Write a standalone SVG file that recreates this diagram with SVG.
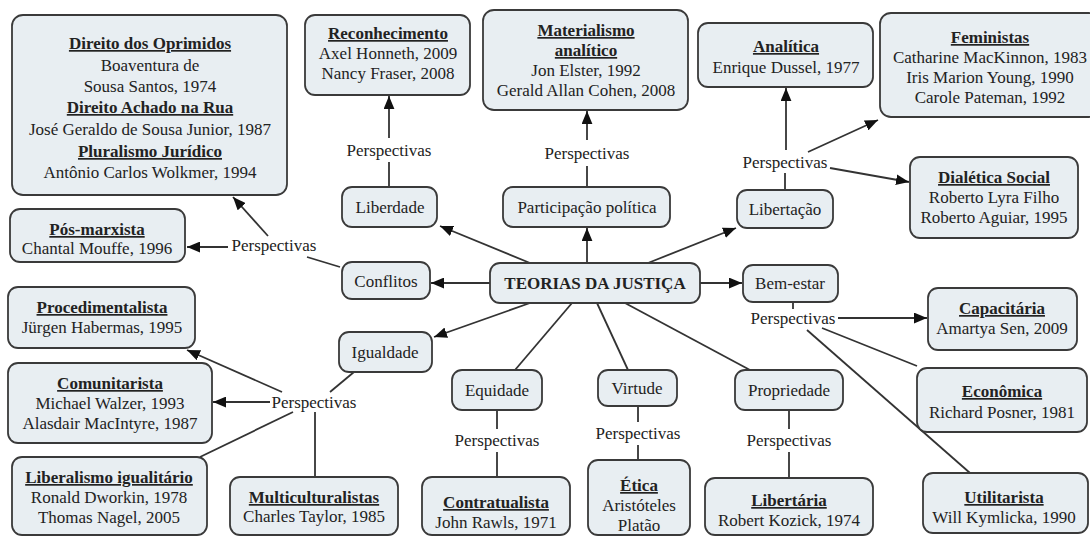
<svg xmlns="http://www.w3.org/2000/svg" width="1090" height="537" viewBox="0 0 1090 537" font-family="Liberation Serif, serif" font-size="17">
<style>
  .box{fill:#e8eef2;stroke:#3a3a3a;stroke-width:1.8}
  .t{font-family:'Liberation Serif',serif;font-size:17px;fill:#222;text-anchor:middle}
  .b{font-weight:bold;text-decoration:underline}
  .bt{font-weight:bold}
  .c{stroke:#333;stroke-width:1.8;fill:none}
  .a{marker-end:url(#arr)}
</style>
<defs>
  <marker id="arr" viewBox="0 0 12 10" refX="12" refY="5" markerWidth="13" markerHeight="11" markerUnits="userSpaceOnUse" orient="auto">
    <path d="M0,0 L12,5 L0,10 z" fill="#111"/>
  </marker>
</defs>
<rect width="1090" height="537" fill="#ffffff"/>
<g id="connectors">
  <line class="c" x1="340" y1="267" x2="307" y2="257"/>
  <line class="c a" x1="228" y1="247" x2="187" y2="247"/>
  <line class="c a" x1="268" y1="236" x2="233" y2="197"/>
  <line class="c a" x1="490" y1="283" x2="431" y2="283"/>
  <line class="c a" x1="530" y1="263" x2="440" y2="226"/>
  <line class="c" x1="389" y1="187" x2="389" y2="162"/>
  <line class="c a" x1="389" y1="138" x2="389" y2="96"/>
  <line class="c a" x1="587" y1="263" x2="587" y2="228"/>
  <line class="c" x1="587" y1="187" x2="587" y2="166"/>
  <line class="c a" x1="587" y1="140" x2="587" y2="111"/>
  <line class="c a" x1="648" y1="263" x2="736" y2="228"/>
  <line class="c" x1="785" y1="190" x2="785" y2="173"/>
  <line class="c a" x1="786" y1="150" x2="786" y2="88"/>
  <line class="c a" x1="808" y1="152" x2="878" y2="120"/>
  <line class="c a" x1="830" y1="168" x2="909" y2="182"/>
  <line class="c a" x1="700" y1="283" x2="742" y2="283"/>
  <line class="c" x1="793" y1="302" x2="793" y2="309"/>
  <line class="c a" x1="838" y1="318" x2="927" y2="318"/>
  <line class="c" x1="822" y1="328" x2="917" y2="366"/>
  <line class="c" x1="807" y1="330" x2="970" y2="473"/>
  <line class="c a" x1="530" y1="303" x2="434" y2="337"/>
  <line class="c" x1="354" y1="372" x2="330" y2="392"/>
  <line class="c a" x1="282" y1="392" x2="187" y2="350"/>
  <line class="c a" x1="270" y1="402" x2="213" y2="402"/>
  <line class="c" x1="293" y1="412" x2="200" y2="457"/>
  <line class="c" x1="315" y1="412" x2="315" y2="477"/>
  <line class="c" x1="572" y1="303" x2="515" y2="370"/>
  <line class="c" x1="497" y1="410" x2="497" y2="429"/>
  <line class="c" x1="497" y1="452" x2="497" y2="477"/>
  <line class="c" x1="597" y1="303" x2="628" y2="370"/>
  <line class="c" x1="638" y1="406" x2="638" y2="422"/>
  <line class="c" x1="638" y1="445" x2="638" y2="460"/>
  <line class="c" x1="625" y1="303" x2="750" y2="370"/>
  <line class="c" x1="789" y1="410" x2="789" y2="429"/>
  <line class="c" x1="789" y1="452" x2="789" y2="478"/>
</g>
<g id="labels">
  <text class="t" x="274" y="251">Perspectivas</text>
  <text class="t" x="389" y="156">Perspectivas</text>
  <text class="t" x="587" y="159">Perspectivas</text>
  <text class="t" x="785" y="168">Perspectivas</text>
  <text class="t" x="793" y="324">Perspectivas</text>
  <text class="t" x="314" y="408">Perspectivas</text>
  <text class="t" x="497" y="446">Perspectivas</text>
  <text class="t" x="638" y="439">Perspectivas</text>
  <text class="t" x="789" y="446">Perspectivas</text>
</g>
<g id="n_direito"><rect class="box" x="12" y="15" width="275" height="180" rx="11"/>
  <text class="t b" x="150" y="49">Direito dos Oprimidos</text>
  <text class="t" x="150" y="71">Boaventura de</text>
  <text class="t" x="150" y="92">Sousa Santos, 1974</text>
  <text class="t b" x="150" y="113">Direito Achado na Rua</text>
  <text class="t" x="150" y="135">José Geraldo de Sousa Junior, 1987</text>
  <text class="t b" x="150" y="157">Pluralismo Jurídico</text>
  <text class="t" x="150" y="178">Antônio Carlos Wolkmer, 1994</text>
</g>
<g id="n_posmarxista"><rect class="box" x="10" y="209" width="175" height="53" rx="10"/>
  <text class="t b" x="97" y="235">Pós-marxista</text>
  <text class="t" x="97" y="254">Chantal Mouffe, 1996</text>
</g>
<g id="n_reconhecimento"><rect class="box" x="305" y="15" width="165" height="80" rx="10"/>
  <text class="t b" x="388" y="39">Reconhecimento</text>
  <text class="t" x="388" y="59">Axel Honneth, 2009</text>
  <text class="t" x="388" y="79">Nancy Fraser, 2008</text>
</g>
<g id="n_materialismo"><rect class="box" x="483" y="10" width="205" height="100" rx="11"/>
  <text class="t b" x="586" y="36">Materialismo</text>
  <text class="t b" x="586" y="56">analítico</text>
  <text class="t" x="586" y="76">Jon Elster, 1992</text>
  <text class="t" x="586" y="96">Gerald Allan Cohen, 2008</text>
</g>
<g id="n_analitica"><rect class="box" x="698" y="23" width="175" height="64" rx="10"/>
  <text class="t b" x="786" y="52">Analítica</text>
  <text class="t" x="786" y="73">Enrique Dussel, 1977</text>
</g>
<g id="n_feministas"><rect class="box" x="880" y="13" width="220" height="104" rx="11"/>
  <text class="t b" x="990" y="43">Feministas</text>
  <text class="t" x="990" y="63">Catharine MacKinnon, 1983</text>
  <text class="t" x="990" y="83">Iris Marion Young, 1990</text>
  <text class="t" x="990" y="103">Carole Pateman, 1992</text>
</g>
<g id="n_dialetica"><rect class="box" x="910" y="157" width="168" height="81" rx="10"/>
  <text class="t b" x="994" y="183">Dialética Social</text>
  <text class="t" x="994" y="203">Roberto Lyra Filho</text>
  <text class="t" x="994" y="223">Roberto Aguiar, 1995</text>
</g>
<g id="n_liberdade"><rect class="box" x="342" y="187" width="95" height="40" rx="10"/>
  <text class="t" x="390" y="213">Liberdade</text>
</g>
<g id="n_participacao"><rect class="box" x="503" y="187" width="167" height="40" rx="10"/>
  <text class="t" x="587" y="213">Participação política</text>
</g>
<g id="n_libertacao"><rect class="box" x="737" y="190" width="96" height="38" rx="10"/>
  <text class="t" x="785" y="215">Libertação</text>
</g>
<g id="n_conflitos"><rect class="box" x="342" y="262" width="88" height="37" rx="10"/>
  <text class="t" x="386" y="287">Conflitos</text>
</g>
<g id="n_teorias"><rect class="box" x="490" y="263" width="210" height="40" rx="10"/>
  <text class="t bt" x="595" y="289">TEORIAS DA JUSTIÇA</text>
</g>
<g id="n_bemestar"><rect class="box" x="743" y="265" width="95" height="37" rx="10"/>
  <text class="t" x="790" y="289">Bem-estar</text>
</g>
<g id="n_igualdade"><rect class="box" x="339" y="332" width="93" height="40" rx="10"/>
  <text class="t" x="385" y="358">Igualdade</text>
</g>
<g id="n_equidade"><rect class="box" x="452" y="370" width="90" height="40" rx="10"/>
  <text class="t" x="497" y="396">Equidade</text>
</g>
<g id="n_virtude"><rect class="box" x="598" y="370" width="79" height="36" rx="10"/>
  <text class="t" x="637" y="394">Virtude</text>
</g>
<g id="n_propriedade"><rect class="box" x="735" y="370" width="108" height="40" rx="10"/>
  <text class="t" x="789" y="396">Propriedade</text>
</g>
<g id="n_capacitaria"><rect class="box" x="928" y="288" width="149" height="62" rx="10"/>
  <text class="t b" x="1002" y="314">Capacitária</text>
  <text class="t" x="1002" y="334">Amartya Sen, 2009</text>
</g>
<g id="n_economica"><rect class="box" x="917" y="368" width="170" height="64" rx="10"/>
  <text class="t b" x="1002" y="397">Econômica</text>
  <text class="t" x="1002" y="418">Richard Posner, 1981</text>
</g>
<g id="n_utilitarista"><rect class="box" x="923" y="473" width="165" height="60" rx="10"/>
  <text class="t b" x="1004" y="503">Utilitarista</text>
  <text class="t" x="1004" y="523">Will Kymlicka, 1990</text>
</g>
<g id="n_procedimentalista"><rect class="box" x="8" y="287" width="187" height="61" rx="10"/>
  <text class="t b" x="102" y="313">Procedimentalista</text>
  <text class="t" x="102" y="333">Jürgen Habermas, 1995</text>
</g>
<g id="n_comunitarista"><rect class="box" x="8" y="363" width="204" height="80" rx="10"/>
  <text class="t b" x="110" y="389">Comunitarista</text>
  <text class="t" x="110" y="409">Michael Walzer, 1993</text>
  <text class="t" x="110" y="429">Alasdair MacIntyre, 1987</text>
</g>
<g id="n_liberalismo"><rect class="box" x="12" y="457" width="195" height="78" rx="10"/>
  <text class="t b" x="109" y="483">Liberalismo igualitário</text>
  <text class="t" x="109" y="503">Ronald Dworkin, 1978</text>
  <text class="t" x="109" y="523">Thomas Nagel, 2005</text>
</g>
<g id="n_multiculturalistas"><rect class="box" x="230" y="477" width="168" height="58" rx="10"/>
  <text class="t b" x="314" y="503">Multiculturalistas</text>
  <text class="t" x="314" y="522">Charles Taylor, 1985</text>
</g>
<g id="n_contratualista"><rect class="box" x="422" y="477" width="148" height="58" rx="10"/>
  <text class="t b" x="496" y="508">Contratualista</text>
  <text class="t" x="496" y="528">John Rawls, 1971</text>
</g>
<g id="n_etica"><rect class="box" x="588" y="460" width="102" height="75" rx="10"/>
  <text class="t b" x="639" y="491">Ética</text>
  <text class="t" x="639" y="511">Aristóteles</text>
  <text class="t" x="639" y="531">Platão</text>
</g>
<g id="n_libertaria"><rect class="box" x="705" y="478" width="168" height="57" rx="10"/>
  <text class="t b" x="789" y="506">Libertária</text>
  <text class="t" x="789" y="526">Robert Kozick, 1974</text>
</g>
</svg>
